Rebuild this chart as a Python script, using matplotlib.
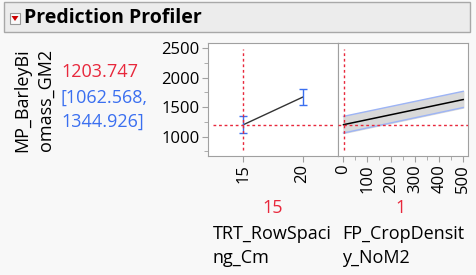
import matplotlib.pyplot as plt
import matplotlib.patches as mpatches
from matplotlib.ticker import MultipleLocator
import numpy as np

# Profiler data
resp_name = "MP_BarleyBi\nomass_GM2"
pred = 1203.747
ci = [1062.568, 1344.926]

spacing_levels = [15, 20]
spacing_pred = [1203.747, 1670]
spacing_lo = [1062.568, 1530]
spacing_hi = [1344.926, 1810]
spacing_cur = 15

density_x = [1, 500]
density_pred = [1203.747, 1630]
density_lo = [1062.568, 1495]
density_hi = [1344.926, 1770]
density_cur = 1

factor_names = ["TRT_RowSpaci\nng_Cm", "FP_CropDensit\ny_NoM2"]

plt.rcParams['font.family'] = ['Open Sans', 'DejaVu Sans']
red = '#e8283c'
blue = '#3a6ff0'
bg = '#f8f8f8'

fig = plt.figure(figsize=(4.76, 2.75), dpi=100, facecolor=bg)

# header bar
fig.patches.append(mpatches.Rectangle((4/476, 1 - 32/275), 466/476, 30/275,
                                      transform=fig.transFigure, facecolor='#ececec',
                                      edgecolor='#a8a8a8', lw=1))
fig.patches.append(mpatches.Rectangle((10/476, 1 - 24/275), 10/476, 11/275,
                                      transform=fig.transFigure, facecolor='#fafafa',
                                      edgecolor='#999999', lw=0.8))
fig.patches.append(mpatches.Polygon([[11.5/476, 1 - 16/275], [18.5/476, 1 - 16/275],
                                     [15/476, 1 - 21/275]], closed=True,
                                    transform=fig.transFigure, facecolor='#cc0000'))
fig.text(24/476, 1 - 18/275, "Prediction Profiler", fontsize=14, fontweight='bold',
         va='center', ha='left')

ax1 = fig.add_axes([208/476, 1 - 156/275, 130/476, 113/275])
ax2 = fig.add_axes([338/476, 1 - 156/275, 130/476, 113/275], sharey=ax1)

for ax in (ax1, ax2):
    ax.set_facecolor('white')
    for s in ax.spines.values():
        s.set_color('#a0a0a0')
    ax.tick_params(colors='#a0a0a0', labelcolor='black', labelsize=12, length=4, pad=2)
    ax.tick_params(which='minor', colors='#a0a0a0', length=3)
    ax.tick_params(axis='x', labelrotation=90)

ax1.set_ylim(672, 2590)
ax1.yaxis.set_major_locator(MultipleLocator(500))
ax1.yaxis.set_minor_locator(MultipleLocator(250))

# row spacing panel
ax1.set_xlim(12, 23)
ax1.set_xticks(spacing_levels)
ax1.plot(spacing_levels, spacing_pred, color='#333333', lw=1)
ax1.errorbar(spacing_levels, spacing_pred,
             yerr=[np.subtract(spacing_pred, spacing_lo), np.subtract(spacing_hi, spacing_pred)],
             fmt='none', ecolor=blue, elinewidth=1, capsize=3)
ax1.axhline(pred, xmin=0.04, xmax=0.96, color=red, ls=(0, (2, 2)), lw=1)
ax1.axvline(spacing_cur, ymin=0.05, ymax=0.95, color=red, ls=(0, (2, 2)), lw=1)

# crop density panel
ax2.set_xlim(-22, 520)
ax2.xaxis.set_major_locator(MultipleLocator(100))
ax2.xaxis.set_minor_locator(MultipleLocator(50))
ax2.tick_params(axis='y', which='both', left=False, labelleft=False)
ax2.fill_between(density_x, density_lo, density_hi, color='#d9d9d9', zorder=1)
ax2.plot(density_x, density_lo, color='#9db4f5', lw=1, zorder=2)
ax2.plot(density_x, density_hi, color='#9db4f5', lw=1, zorder=2)
ax2.plot(density_x, density_pred, color='black', lw=1.1, zorder=3)
ax2.axhline(pred, color=red, ls=(0, (2, 2)), lw=1, zorder=4)
ax2.axvline(density_cur, ymin=0.05, ymax=0.95, color=red, ls=(0, (2, 2)), lw=1, zorder=4)

# response label and current prediction
fig.text(34/476, 1 - 100/275, resp_name, rotation=90, fontsize=13,
         ha='center', va='center', linespacing=1.4)
fig.text(61/476, 1 - 72/275, f"{pred:.3f}", color=red, fontsize=13, va='center')
fig.text(61/476, 1 - 98/275, f"[{ci[0]:.3f},", color=blue, fontsize=13, va='center')
fig.text(61/476, 1 - 122/275, f"{ci[1]:.3f}]", color=blue, fontsize=13, va='center')

# current factor settings and names
fig.text(273/476, 1 - 208/275, str(spacing_cur), color=red, fontsize=13, ha='center', va='center')
fig.text(401/476, 1 - 208/275, str(density_cur), color=red, fontsize=13, ha='center', va='center')
fig.text(213/476, 1 - 246/275, factor_names[0], fontsize=13, va='center', linespacing=1.4)
fig.text(342/476, 1 - 246/275, factor_names[1], fontsize=13, va='center', linespacing=1.4)

fig.savefig('out.png', dpi=100, facecolor=bg)
